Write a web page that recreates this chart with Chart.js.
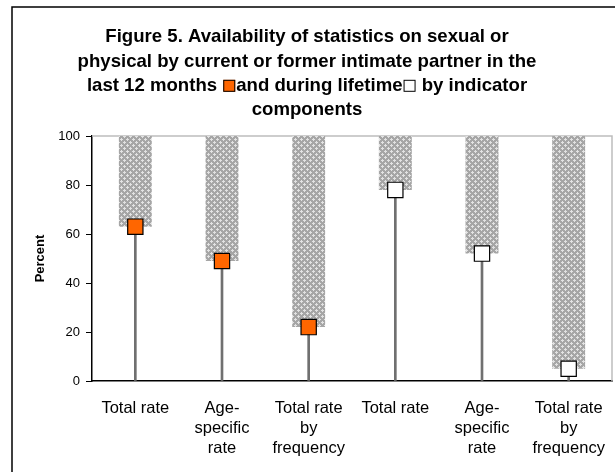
<!DOCTYPE html>
<html>
<head>
<meta charset="utf-8">
<script src="https://cdn.jsdelivr.net/npm/chart.js@4"></script>
<style>
  html, body { margin: 0; padding: 0; background: #fff; }
</style>
</head>
<body>
<canvas id="fig5" width="615" height="472"></canvas>
<script>
// values
const categories = [
  ["Total rate"], ["Age-", "specific", "rate"], ["Total rate", "by", "frequency"],
  ["Total rate"], ["Age-", "specific", "rate"], ["Total rate", "by", "frequency"]
];
const last12Months = [63, 49, 22];
const duringLifetime = [78, 52, 5];
const yTicks = [0, 20, 40, 60, 80, 100];

const titleLines = [
  ["Figure 5. Availability of statistics on sexual or"],
  ["physical by current or former intimate partner in the"],
  ["last 12 months ", { box: "#ff6600" }, "and during lifetime", { box: "#ffffff" }, " by indicator"],
  ["components"]
];

const FONT = "'Liberation Sans', Arial, sans-serif";

// grey hatch used for the "not available" part of each column
function hatch() {
  const c = document.createElement('canvas');
  c.width = 6; c.height = 6;
  const g = c.getContext('2d');
  g.fillStyle = '#a6a6a6';
  g.fillRect(0, 0, 6, 6);
  g.fillStyle = '#e2e2e2';
  [[1,0],[0,1],[1,1],[2,1],[1,2],[4,3],[3,4],[4,4],[5,4],[4,5]].forEach(p => g.fillRect(p[0], p[1], 1, 1));
  return g.createPattern(c, 'repeat');
}

const allValues = last12Months.concat(duringLifetime);
const pad = n => Array(n).fill(null);

const framePlugin = {
  id: 'frame',
  beforeDatasetsDraw(chart) {
    const { ctx, chartArea: a } = chart;
    ctx.save();
    ctx.strokeStyle = '#bdbdbd';
    ctx.lineWidth = 1.5;
    ctx.beginPath();
    ctx.moveTo(a.left, a.top);
    ctx.lineTo(a.right, a.top);
    ctx.lineTo(a.right, a.bottom);
    ctx.stroke();
    ctx.restore();
  },
  afterDraw(chart) {
    const ctx = chart.ctx;
    ctx.save();
    // outer border of the figure, cut off at right and bottom
    ctx.strokeStyle = '#000';
    ctx.lineWidth = 1.5;
    ctx.beginPath();
    ctx.moveTo(12, 480);
    ctx.lineTo(12, 7);
    ctx.lineTo(620, 7);
    ctx.stroke();

    // title with the inline legend boxes
    ctx.font = 'bold 18.6px ' + FONT;
    ctx.textBaseline = 'middle';
    ctx.fillStyle = '#000';
    const box = 12, gap = 1;
    titleLines.forEach((parts, i) => {
      const y = 37 + i * 24.4;
      const w = parts.reduce((s, p) => s + (typeof p === 'string' ? ctx.measureText(p).width : box + 2 * gap), 0);
      let x = 307 - w / 2;
      parts.forEach(p => {
        if (typeof p === 'string') {
          ctx.textAlign = 'left';
          ctx.fillText(p, x, y);
          x += ctx.measureText(p).width;
        } else {
          ctx.fillStyle = p.box;
          ctx.fillRect(x + gap, y - box / 2, box, box);
          ctx.strokeStyle = '#000';
          ctx.lineWidth = 1;
          ctx.strokeRect(x + gap + 0.5, y - box / 2 + 0.5, box - 1, box - 1);
          ctx.fillStyle = '#000';
          x += box + 2 * gap;
        }
      });
    });
    ctx.restore();
  }
};

new Chart(document.getElementById('fig5'), {
  data: {
    labels: categories,
    datasets: [
      {
        type: 'line',
        data: last12Months.concat(pad(duringLifetime.length)),
        showLine: false,
        pointStyle: 'rect',
        pointRadius: 10.8,
        backgroundColor: '#ff6600',
        borderColor: '#000',
        borderWidth: 1.2,
        clip: false,
        order: 0
      },
      {
        type: 'line',
        data: pad(last12Months.length).concat(duringLifetime),
        showLine: false,
        pointStyle: 'rect',
        pointRadius: 10.8,
        backgroundColor: '#ffffff',
        borderColor: '#000',
        borderWidth: 1.2,
        clip: false,
        order: 1
      },
      {
        type: 'bar',
        data: allValues.map(v => [0, v]),
        backgroundColor: '#707070',
        barThickness: 2,
        grouped: false,
        order: 2
      },
      {
        type: 'bar',
        data: allValues.map(v => [v, 100]),
        backgroundColor: hatch(),
        barPercentage: 0.38,
        categoryPercentage: 1,
        grouped: false,
        order: 3
      }
    ]
  },
  options: {
    responsive: false,
    animation: false,
    layout: { autoPadding: false, padding: { top: 136, right: 3, left: 0, bottom: 0 } },
    plugins: { legend: { display: false }, tooltip: { enabled: false }, title: { display: false } },
    scales: {
      x: {
        grid: { display: false, drawTicks: false },
        border: { color: '#000', width: 1.5 },
        ticks: { color: '#000', font: { family: FONT, size: 16.5, lineHeight: 1.2 }, padding: 18, maxRotation: 0, autoSkip: false },
        afterFit: s => { s.height = 91; s.paddingLeft = 0; s.paddingRight = 0; }
      },
      y: {
        min: 0,
        max: 100,
        afterBuildTicks: s => { s.ticks = yTicks.map(v => ({ value: v })); },
        grid: { drawOnChartArea: false, tickLength: 6, color: '#000' },
        border: { color: '#000', width: 1.5 },
        ticks: { color: '#000', font: { family: FONT, size: 13 }, padding: 6 },
        title: { display: true, text: 'Percent', color: '#000', font: { family: FONT, size: 13, weight: 'bold' }, padding: { top: 33, bottom: 0 } },
        afterFit: s => { s.width = 92; s.paddingTop = 0; s.paddingBottom = 0; }
      }
    }
  },
  plugins: [framePlugin]
});
</script>
</body>
</html>
